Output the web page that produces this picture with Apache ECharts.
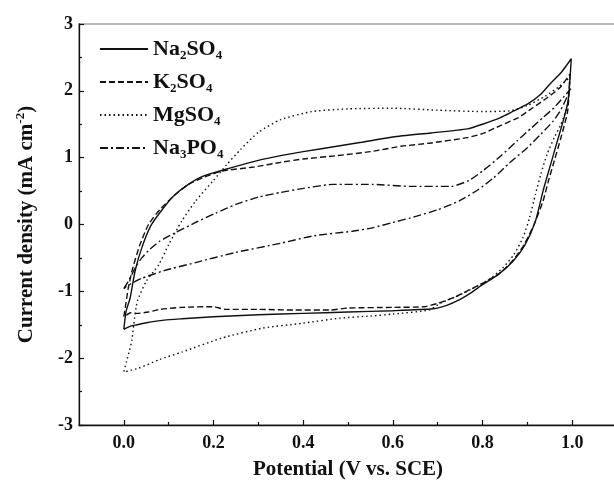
<!DOCTYPE html>
<html>
<head>
<meta charset="utf-8">
<script src="https://cdn.jsdelivr.net/npm/echarts@6/dist/echarts.min.js"></script>
<style>html,body{margin:0;padding:0;background:#fff;}#c{width:614px;height:481px;}</style>
</head>
<body>
<div id="c"></div>
<script>
// Na2SO4 (solid)
var na2so4V = [0, 0.005, 0.014, 0.025, 0.04, 0.06, 0.084, 0.11, 0.144, 0.18, 0.24, 0.3, 0.35, 0.4, 0.475, 0.53, 0.6, 0.685, 0.766, 0.8, 0.84, 0.87, 0.9, 0.93, 0.95, 0.975, 0.998,
  0.991, 0.98, 0.967, 0.952, 0.935, 0.918, 0.895, 0.868, 0.835, 0.8, 0.775, 0.75, 0.72, 0.69, 0.6, 0.5, 0.4, 0.3, 0.2, 0.13, 0.09, 0.05, 0.03, 0.015, 0.005, 0];
var na2so4J = [-1.57, -1.3, -1.1, -0.7, -0.35, -0.02, 0.21, 0.42, 0.6, 0.73, 0.85, 0.96, 1.03, 1.09, 1.17, 1.23, 1.31, 1.37, 1.43, 1.5, 1.6, 1.7, 1.8, 1.95, 2.1, 2.27, 2.48,
  1.85, 1.55, 1.25, 0.9, 0.5, 0.05, -0.3, -0.55, -0.75, -0.9, -1.02, -1.12, -1.21, -1.26, -1.29, -1.31, -1.33, -1.35, -1.38, -1.41, -1.43, -1.47, -1.5, -1.52, -1.55, -1.57];
// K2SO4 (dashed)
var k2so4V = [0, 0.003, 0.01, 0.02, 0.035, 0.055, 0.08, 0.11, 0.144, 0.18, 0.22, 0.29, 0.35, 0.4, 0.475, 0.55, 0.618, 0.685, 0.766, 0.8, 0.84, 0.88, 0.913, 0.945, 0.973, 0.995,
  0.99, 0.975, 0.96, 0.947, 0.935, 0.915, 0.893, 0.87, 0.84, 0.8, 0.77, 0.74, 0.7, 0.67, 0.6, 0.5, 0.46, 0.38, 0.3, 0.225, 0.2, 0.13, 0.08, 0.055, 0.03, 0.015, 0.005, 0];
var k2so4J = [-1.38, -1.25, -0.95, -0.65, -0.32, 0.0, 0.22, 0.42, 0.6, 0.71, 0.8, 0.86, 0.93, 0.98, 1.03, 1.09, 1.17, 1.22, 1.3, 1.36, 1.48, 1.6, 1.75, 1.9, 2.05, 2.25,
  1.7, 1.3, 0.95, 0.65, 0.35, 0.0, -0.3, -0.52, -0.72, -0.88, -0.98, -1.08, -1.18, -1.23, -1.24, -1.25, -1.28, -1.28, -1.27, -1.27, -1.23, -1.24, -1.27, -1.31, -1.33, -1.32, -1.36, -1.38];
// MgSO4 (dotted)
var mgso4V = [0, 0.006, 0.012, 0.018, 0.022, 0.03, 0.05, 0.078, 0.1, 0.129, 0.16, 0.2, 0.23, 0.26, 0.3, 0.35, 0.42, 0.5, 0.6, 0.7, 0.8, 0.86, 0.9, 0.94, 0.97, 0.995,
  0.99, 0.975, 0.96, 0.944, 0.93, 0.918, 0.905, 0.89, 0.87, 0.845, 0.815, 0.78, 0.744, 0.706, 0.68, 0.6, 0.55, 0.484, 0.396, 0.31, 0.218, 0.129, 0.08, 0.033, 0.015, 0.005];
var mgso4J = [-2.2, -2.05, -1.9, -1.73, -1.5, -1.15, -0.85, -0.6, -0.3, 0.05, 0.35, 0.66, 0.9, 1.12, 1.38, 1.57, 1.69, 1.73, 1.74, 1.71, 1.69, 1.7, 1.78, 1.92, 2.06, 2.2,
  1.8, 1.5, 1.3, 1.05, 0.75, 0.45, 0.1, -0.2, -0.45, -0.65, -0.82, -0.95, -1.07, -1.18, -1.28, -1.34, -1.37, -1.4, -1.48, -1.55, -1.7, -1.91, -2.02, -2.15, -2.18, -2.2];
// Na3PO4 (dash-dot)
var na3po4V = [0, 0.01, 0.02, 0.029, 0.04, 0.055, 0.08, 0.113, 0.16, 0.205, 0.25, 0.3, 0.35, 0.4, 0.467, 0.554, 0.64, 0.73, 0.77, 0.8, 0.84, 0.877, 0.91, 0.935, 0.96, 0.98, 0.997,
  0.988, 0.975, 0.958, 0.93, 0.9, 0.86, 0.825, 0.79, 0.75, 0.7, 0.64, 0.6, 0.554, 0.51, 0.423, 0.35, 0.248, 0.16, 0.09, 0.038, 0.018, 0.005, 0];
var na3po4J = [-0.96, -0.85, -0.72, -0.61, -0.5, -0.39, -0.25, -0.13, 0.03, 0.17, 0.3, 0.41, 0.48, 0.54, 0.6, 0.6, 0.57, 0.57, 0.66, 0.8, 1.02, 1.25, 1.45, 1.6, 1.75, 1.9, 2.03,
  1.9, 1.72, 1.55, 1.35, 1.15, 0.92, 0.7, 0.52, 0.36, 0.22, 0.1, 0.03, -0.05, -0.1, -0.17, -0.28, -0.42, -0.57, -0.69, -0.81, -0.88, -0.93, -0.96];

var seriesNames = ['Na2SO4', 'K2SO4', 'MgSO4', 'Na3PO4'];
var legendRich = {
  Na2SO4: '{n|Na}{s|2}{n|SO}{s|4}',
  K2SO4: '{n|K}{s|2}{n|SO}{s|4}',
  MgSO4: '{n|MgSO}{s|4}',
  Na3PO4: '{n|Na}{s|3}{n|PO}{s|4}'
};
var xMajor = [0, 0.2, 0.4, 0.6, 0.8, 1.0];
var xMinor = [0.1, 0.3, 0.5, 0.7, 0.9];

function pairs(v, j) { return v.map(function (x, i) { return [x, j[i]]; }); }

var FONT = 'Liberation Serif';
var INK = '#111';
var GRID = { left: 79, right: -3, top: 24, bottom: 56 };
function mk(name, v, j, type) {
  return {
    name: name, type: 'line', data: pairs(v, j), symbol: 'none', smooth: 0.2,
    xAxisIndex: 0, yAxisIndex: 0, animation: false,
    itemStyle: { color: INK },
    lineStyle: { color: INK, width: 1.4, type: type }
  };
}

var chart = echarts.init(document.getElementById('c'), null, { renderer: 'canvas' });
chart.setOption({
  backgroundColor: '#fff',
  animation: false,
  grid: [
    { left: GRID.left, right: GRID.right, top: GRID.top, bottom: GRID.bottom, outerBoundsMode: 'none', containLabel: false,
      show: true, borderColor: '#777', borderWidth: 1.2 },
    { left: GRID.left, right: GRID.right, top: GRID.top, bottom: GRID.bottom, outerBoundsMode: 'none', containLabel: false, show: false }
  ],
  legend: {
    orient: 'vertical', left: 94, top: 31, itemWidth: 48, itemHeight: 14, itemGap: 7,
    data: seriesNames,
    itemStyle: { opacity: 0 },
    formatter: function (n) { return legendRich[n]; },
    textStyle: {
      fontFamily: FONT, fontWeight: 'bold', color: INK,
      rich: {
        n: { fontFamily: FONT, fontWeight: 'bold', fontSize: 22, color: INK, lineHeight: 24 },
        s: { fontFamily: FONT, fontWeight: 'bold', fontSize: 13, color: INK, lineHeight: 14, padding: [13, 0, 0, 0] }
      }
    }
  },
  xAxis: [{
    gridIndex: 0, type: 'value', min: -0.1, max: 1.1, position: 'bottom',
    name: 'Potential (V vs. SCE)', nameLocation: 'middle', nameGap: 34,
    nameTextStyle: { fontFamily: FONT, fontWeight: 'bold', fontSize: 21, color: INK },
    axisLine: { show: true, onZero: false, lineStyle: { color: INK, width: 1.3 } },
    axisTick: { show: true, inside: true, length: 5, customValues: xMajor, lineStyle: { color: INK, width: 1.2 } },
    axisLabel: { customValues: xMajor, margin: 9, fontFamily: FONT, fontWeight: 'bold', fontSize: 18, color: INK,
      formatter: function (v) { return v.toFixed(1); } },
    splitLine: { show: false }
  }, {
    // minor ticks along the bottom edge, on an overlaid grid whose zero sits on the bottom edge
    gridIndex: 1, type: 'value', min: -0.1, max: 1.1, position: 'bottom',
    axisLine: { show: false, onZero: true },
    axisTick: { show: true, inside: true, length: 3, customValues: xMinor, lineStyle: { color: INK, width: 1.2 } },
    axisLabel: { show: false },
    splitLine: { show: false }
  }],
  yAxis: [{
    gridIndex: 0, type: 'value', min: -3, max: 3, interval: 1,
    name: '{a|Current density (mA cm}{sup|-2}{a|)}', nameLocation: 'middle', nameGap: 40,
    nameTextStyle: {
      fontFamily: FONT, fontWeight: 'bold', fontSize: 21, color: INK,
      rich: {
        a: { fontFamily: FONT, fontWeight: 'bold', fontSize: 21, color: INK, lineHeight: 24 },
        sup: { fontFamily: FONT, fontWeight: 'bold', fontSize: 13, color: INK, lineHeight: 14, padding: [0, 0, 12, 0] }
      }
    },
    axisLine: { show: true, onZero: false, lineStyle: { color: INK, width: 1.3 } },
    axisTick: { show: true, inside: true, length: 5, lineStyle: { color: INK, width: 1.2 } },
    minorTick: { show: true, splitNumber: 2, length: 3, lineStyle: { color: INK, width: 1.2 } },
    axisLabel: { margin: 6, fontFamily: FONT, fontWeight: 'bold', fontSize: 18, color: INK },
    splitLine: { show: false },
    minorSplitLine: { show: false }
  }, {
    gridIndex: 1, type: 'value', min: 0, max: 1, show: false
  }],
  series: [
    mk('Na2SO4', na2so4V, na2so4J, 'solid'),
    mk('K2SO4', k2so4V, k2so4J, [6, 3]),
    mk('MgSO4', mgso4V, mgso4J, [1.5, 3]),
    mk('Na3PO4', na3po4V, na3po4J, [8, 3, 2, 3])
  ]
});
</script>
</body>
</html>
